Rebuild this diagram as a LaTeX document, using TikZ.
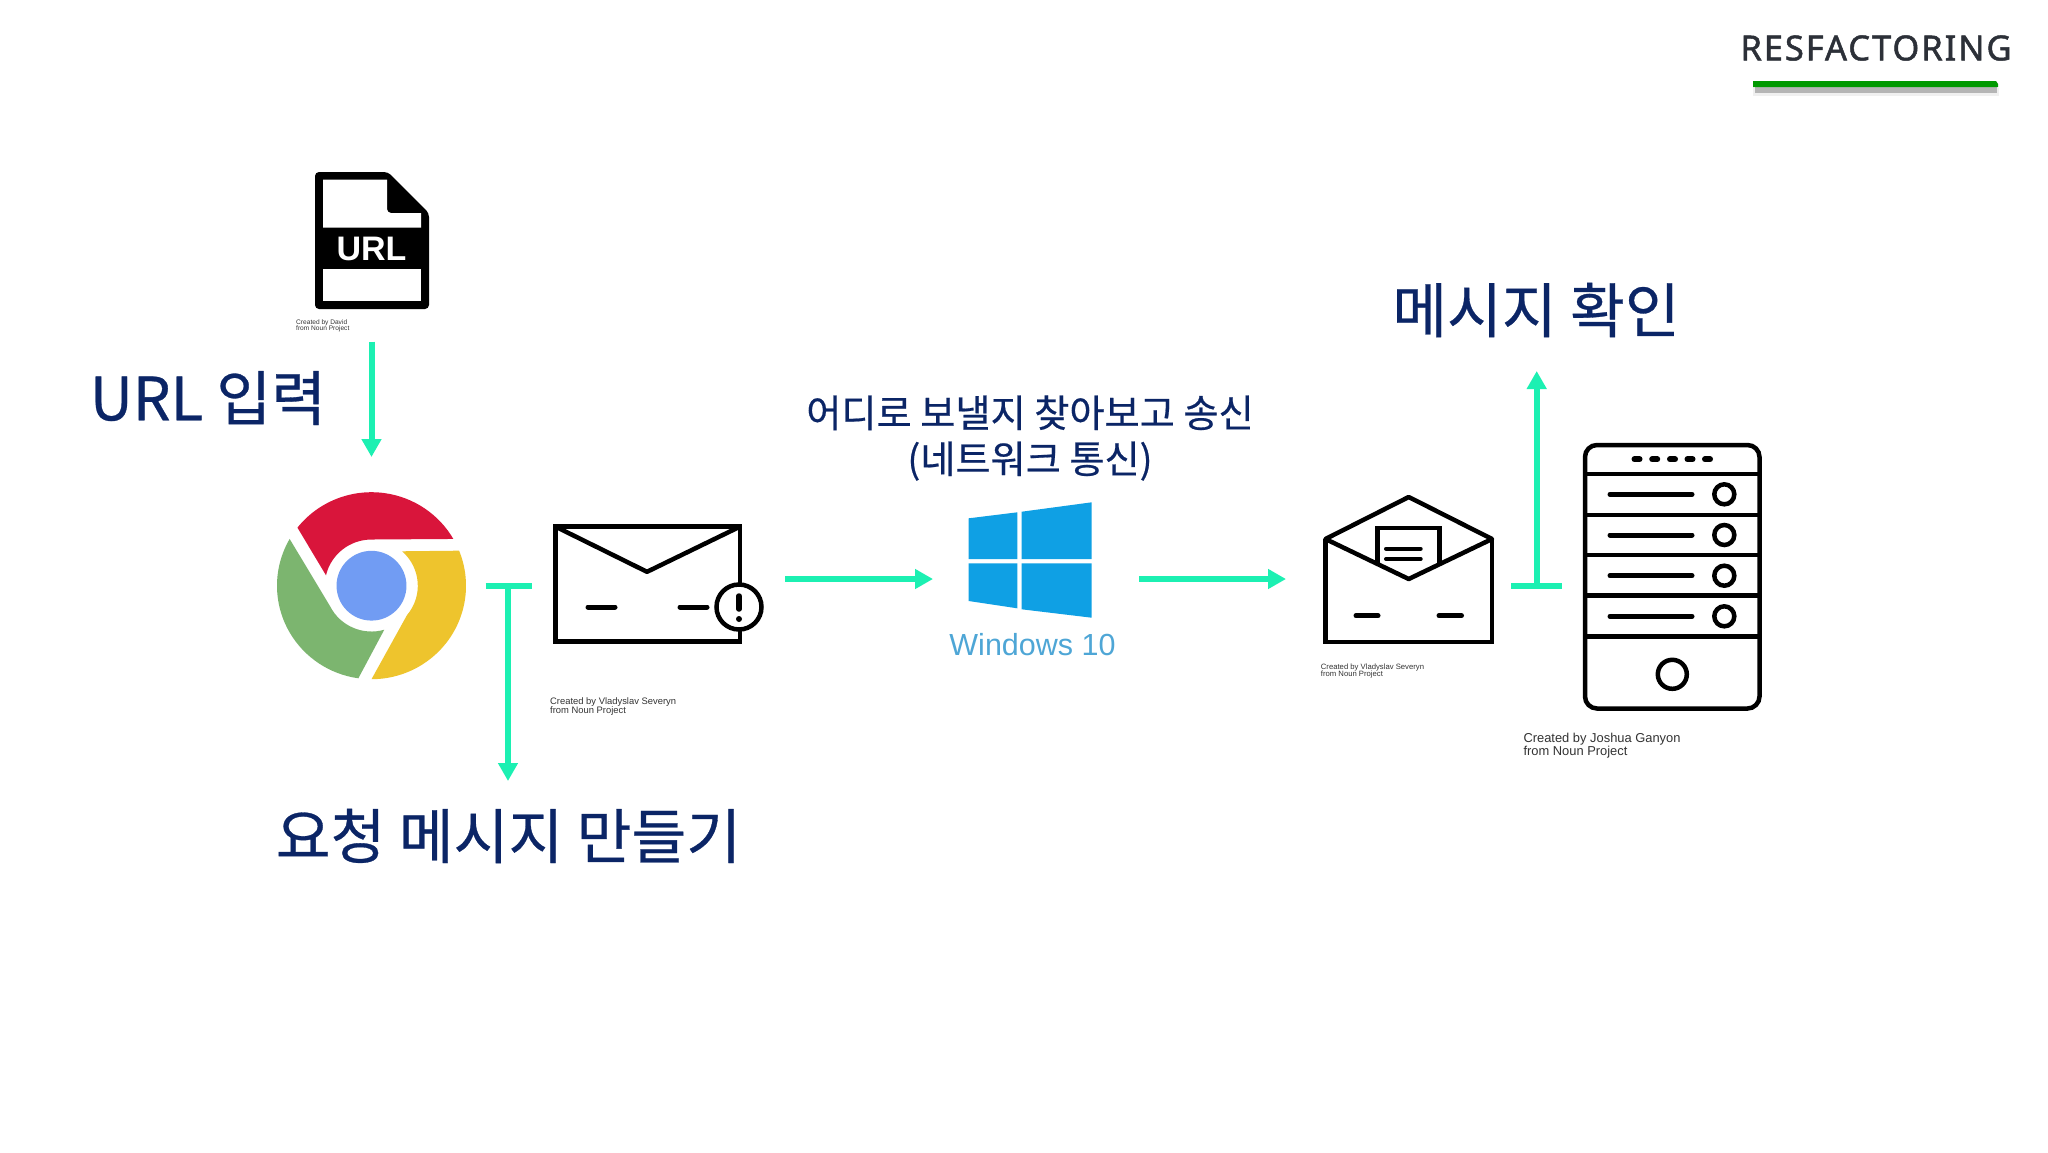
\documentclass[tikz,border=0pt]{standalone}
\usepackage{fontspec}
\setmainfont{Liberation Sans}
\newfontfamily\krfont[FakeBold=0.5]{Noto Sans CJK KR}
\newfontfamily\ttlfont[FakeBold=1.4,LetterSpace=5.6]{Noto Sans}
\usetikzlibrary{arrows.meta}
\definecolor{navy}{HTML}{0B2566}
\definecolor{mint}{HTML}{1CF0B2}
\definecolor{crRed}{HTML}{D9153B}
\definecolor{crGreen}{HTML}{7CB56F}
\definecolor{crYellow}{HTML}{EEC42D}
\definecolor{crBlue}{HTML}{719CF3}
\definecolor{winBlue}{HTML}{0FA0E4}
\definecolor{winText}{HTML}{4EA6D6}
\definecolor{titleGrey}{HTML}{2C3038}
\tikzset{
  biglabel/.style={inner sep=0pt,text=navy,font=\krfont\fontsize{59.6}{70}\selectfont},
  midlabel/.style={inner sep=0pt,text=navy,align=center,font=\krfont\fontsize{38.2}{46}\selectfont},
  credit/.style={inner sep=0pt,anchor=north west,align=left,text=black!80},
  flow/.style={draw=mint,line width=6pt,-{Triangle[width=19pt,length=18pt]}},
  bar/.style={draw=mint,line width=6pt},
  icon/.style={draw=black,line width=4.5pt,line join=miter},
  iconthin/.style={draw=black,line width=5pt,line cap=round},
  winpane/.style={fill=winBlue,draw=none}
}
\begin{document}
\begin{tikzpicture}[x=1pt,y=-1pt]
\useasboundingbox (0,0) rectangle (2048,1152);
\fill[white] (0,0) rectangle (2048,1152);

% title
\node[inner sep=0pt,text=titleGrey,font=\ttlfont\fontsize{34.5}{42}\selectfont] (title) at (1876,48) {RESFACTORING};
\fill[black!6] (1753,88) rectangle (1999,96);
\fill[black!29] (1755,87) rectangle (1997,93);
\fill[green!60!black] (1753,81) -- (1996,81) -- (1998,84) -- (1998,87) -- (1753,87) -- cycle;

% URL file icon
\fill[black,rounded corners=4pt] (315,172) -- (388,172) -- (429,213) -- (429,309) -- (315,309) -- cycle;
\fill[white] (323,179.6) -- (387,179.6) -- (387,207) [rounded corners=4pt] -- (387,213) [sharp corners] -- (421,213) -- (421,227.7) -- (323,227.7) -- cycle;
\fill[white] (323,269) rectangle (421,301);
\node[inner sep=0pt,text=white,font=\bfseries\fontsize{34}{40}\selectfont] (urlicon) at (371.5,249) {URL};
\node[credit,font=\fontsize{6.6}{6.5}\selectfont] (creditDavid) at (296,319.5) {Created by David\\from Noun Project};

% labels
\node[biglabel] (urlinput) at (208,398) {URL 입력};
\node[biglabel] (makemsg) at (508.5,836) {요청 메시지 만들기};
\node[biglabel] (checkmsg) at (1536,310) {메시지 확인};
\node[midlabel] (route) at (1030,438) {어디로 보낼지 찾아보고 송신\\(네트워크 통신)};

% chrome
\begin{scope}[shift={(371.5,585.7)},x=94.5pt,y=93.5pt]
\fill[crRed] (141.6:1) arc[radius=1,start angle=141.6,end angle=30] -- (0,0.494) arc[radius=0.494,start angle=90,end angle=167] -- cycle;
\fill[crYellow] (22:1) arc[radius=1,start angle=22,end angle=-90] -- (-40:0.49) arc[radius=0.49,start angle=-40,end angle=48.7] -- cycle;
\fill[crGreen] (150:1) arc[radius=1,start angle=150,end angle=262] -- (286:0.49) arc[radius=0.49,start angle=286,end angle=207] -- cycle;
\fill[crBlue] (0,0) circle[x radius=0.37,y radius=0.373];
\end{scope}

% envelope with alert
\draw[icon] (555.5,526.6) rectangle (740,641.7);
\draw[icon,line join=round] (555.5,526.6) -- (647,571.8) -- (740,526.6);
\draw[iconthin] (588,607) -- (615,607);
\draw[iconthin] (680,607) -- (707,607);
\draw[draw=black,line width=4.5pt,fill=white] (739,607) circle[radius=22.5];
\draw[draw=black,line width=5.5pt,line cap=round] (739,596) -- (739,609);
\fill[black] (739,619) circle[radius=3];
\node[credit,font=\fontsize{9.4}{9.3}\selectfont] (creditV1) at (550,697.5) {Created by Vladyslav Severyn\\from Noun Project};

% windows
\fill[winpane] (968.7,518.3) -- (1017.3,512.3) -- (1017.3,559) -- (968.7,559) -- cycle;
\fill[winpane] (1021.7,511.7) -- (1091.7,502.3) -- (1091.7,559) -- (1021.7,559) -- cycle;
\fill[winpane] (968.7,563.3) -- (1017.3,563.3) -- (1017.3,608.3) -- (968.7,601) -- cycle;
\fill[winpane] (1021.7,563.3) -- (1091.7,563.3) -- (1091.7,617.7) -- (1021.7,609.3) -- cycle;
\node[inner sep=0pt,text=winText,font=\fontsize{30.5}{36}\selectfont] (win) at (1032.5,645) {Windows 10};

% open envelope
\draw[icon] (1325.5,539) -- (1325.5,642) -- (1492,642) -- (1492,539);
\draw[icon,line join=round] (1325.5,539) -- (1408.7,497) -- (1492,539) -- (1408.7,579) -- cycle;
\draw[draw=black,line width=4.5pt] (1377.7,564) -- (1377.7,528) -- (1439.7,528) -- (1439.7,564);
\draw[draw=black,line width=4pt,line cap=round] (1386,548.7) -- (1420.7,548.7);
\draw[draw=black,line width=4pt,line cap=round] (1386,559) -- (1420.7,559);
\draw[iconthin] (1356,615.7) -- (1378,615.7);
\draw[iconthin] (1439,615.7) -- (1461.5,615.7);
\node[credit,font=\fontsize{7.7}{7.6}\selectfont] (creditV2) at (1320.7,663.5) {Created by Vladyslav Severyn\\from Noun Project};

% server
\draw[draw=black,line width=4.5pt,rounded corners=12pt] (1585,445) rectangle (1759.5,708.5);
\foreach \yy in {474,515,555,595.7,636.7} \draw[draw=black,line width=4.5pt] (1585,\yy) -- (1759.5,\yy);
\foreach \xx in {1637,1654.7,1672.5,1690,1707.5} \draw[draw=black,line width=6pt,line cap=round] (\xx-2.5,459.3) -- (\xx+2.5,459.3);
\foreach \yy in {494.3,535,575.7,616.3} {
  \draw[draw=black,line width=5pt,line cap=round] (1610,\yy) -- (1692,\yy);
  \draw[draw=black,line width=4.5pt] (1724.3,\yy) circle[radius=10];
}
\draw[draw=black,line width=4.5pt] (1672.3,674.3) circle[radius=14.5];
\node[credit,font=\fontsize{12.9}{13}\selectfont] (creditJ) at (1523.3,733) {Created by Joshua Ganyon\\from Noun Project};

% connectors
\coordinate (urlstart) at (371.5,341.6);
\coordinate (urltip) at (371.5,457);
\draw[flow] (urlstart) -- (urltip);
\coordinate (tA1) at (485.7,585.8);
\coordinate (tA2) at (531.7,585.8);
\coordinate (tAm) at (508,585.8);
\coordinate (tAtip) at (508,781);
\draw[bar] (tA1) -- (tA2);
\draw[flow] (tAm) -- (tAtip);
\coordinate (f1a) at (785,579);
\coordinate (f1b) at (933,579);
\draw[flow] (f1a) -- (f1b);
\coordinate (f2a) at (1139,579);
\coordinate (f2b) at (1286,579);
\draw[flow] (f2a) -- (f2b);
\coordinate (tB1) at (1511.3,585.7);
\coordinate (tB2) at (1562,585.7);
\coordinate (tBm) at (1536.7,585.7);
\coordinate (tBtip) at (1536.7,371);
\draw[bar] (tB1) -- (tB2);
\draw[flow] (tBm) -- (tBtip);
\end{tikzpicture}
\end{document}
